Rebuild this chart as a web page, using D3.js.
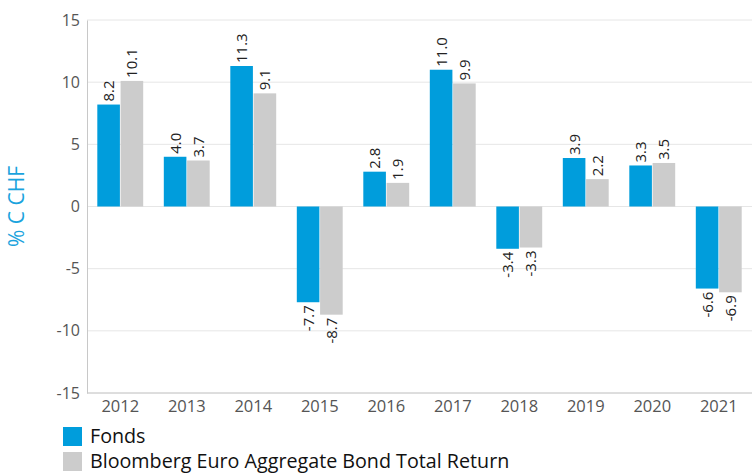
<!DOCTYPE html>
<html><head><meta charset="utf-8">
<script src="https://cdn.jsdelivr.net/npm/d3@7"></script>
<style>body{margin:0;background:#fff}svg{display:block;font-family:"Open Sans",sans-serif}</style>
</head><body><svg id="c" width="752" height="473"></svg>
<script>
const years = ["2012","2013","2014","2015","2016","2017","2018","2019","2020","2021"];
const fonds = [8.2,4.0,11.3,-7.7,2.8,11.0,-3.4,3.9,3.3,-6.6];
const bench = [10.1,3.7,9.1,-8.7,1.9,9.9,-3.3,2.2,3.5,-6.9];
const seriesNames = ["Fonds","Bloomberg Euro Aggregate Bond Total Return"];
const colors = ["#009ddc","#cccccc"];
const yTicks = [-15,-10,-5,0,5,10,15];

const svg = d3.select("#c");
const m = {l:87, r:0, t:20, b:80};
const W = 752, H = 473;
const x = d3.scaleBand().domain(years).range([m.l, W-m.r]).paddingInner(0.31).paddingOuter(0.155);
const y = d3.scaleLinear().domain([-15,15]).range([H-m.b, m.t]);
const x1 = d3.scaleBand().domain([0,1]).range([0, x.bandwidth()]).paddingInner(0.03);

// grid
svg.append("g").selectAll("line").data(yTicks).join("line")
  .attr("x1", m.l).attr("x2", W).attr("y1", d=>y(d)).attr("y2", d=>y(d))
  .attr("stroke", "#e6e6e6").attr("stroke-width",1);

// y axis
const ya = svg.append("g").attr("transform",`translate(${m.l},0)`)
  .call(d3.axisLeft(y).tickValues(yTicks).tickFormat(d=>String(d)).tickSize(0).tickPadding(7));
ya.select(".domain").attr("stroke","#c8c8c8");
ya.selectAll("text").attr("font-size",16).attr("fill","#555").attr("font-family","Open Sans, sans-serif");

// x axis
const xa = svg.append("g").attr("transform",`translate(0,${y(-15)})`)
  .call(d3.axisBottom(x).tickSize(0).tickPadding(7));
xa.select(".domain").attr("stroke","#c8c8c8").attr("d",`M${m.l},0H${W}`);
xa.selectAll("text").attr("font-size",16.5).attr("fill","#555").attr("font-family","Open Sans, sans-serif");

// bars
const data = years.map((yr,i)=>({yr, vals:[fonds[i],bench[i]]}));
const g = svg.append("g").selectAll("g").data(data).join("g")
  .attr("transform", d=>`translate(${x(d.yr)},0)`);
g.selectAll("rect").data(d=>d.vals.map((v,k)=>({v,k}))).join("rect")
  .attr("x", d=>x1(d.k)).attr("width", x1.bandwidth())
  .attr("y", d=>y(Math.max(0,d.v))).attr("height", d=>Math.abs(y(d.v)-y(0)))
  .attr("fill", d=>colors[d.k]);
g.selectAll("text").data(d=>d.vals.map((v,k)=>({v,k}))).join("text")
  .attr("transform", d=>{
    const cx = x1(d.k)+x1.bandwidth()/2;
    const yy = d.v>=0 ? y(d.v)-3 : y(d.v)+3;
    return `translate(${cx+5.5},${yy}) rotate(-90)`;
  })
  .attr("text-anchor", d=>d.v>=0?"start":"end")
  .attr("font-size",15).attr("fill","#222")
  .text(d=>d.v.toFixed(1));

// y title
svg.append("text").attr("transform",`translate(24,${y(0)}) rotate(-90)`)
  .attr("text-anchor","middle").attr("font-size",21).attr("fill","#1aa3dd").text("% C CHF");

// legend
const lg = svg.append("g").selectAll("g").data(seriesNames).join("g")
  .attr("transform",(d,i)=>`translate(63,${427+i*25})`);
lg.append("rect").attr("width",19).attr("height",19).attr("fill",(d,i)=>colors[i]);
lg.append("text").attr("x",27).attr("y",16).attr("font-size",19.7).attr("fill","#111").text(d=>d);
</script></body></html>
